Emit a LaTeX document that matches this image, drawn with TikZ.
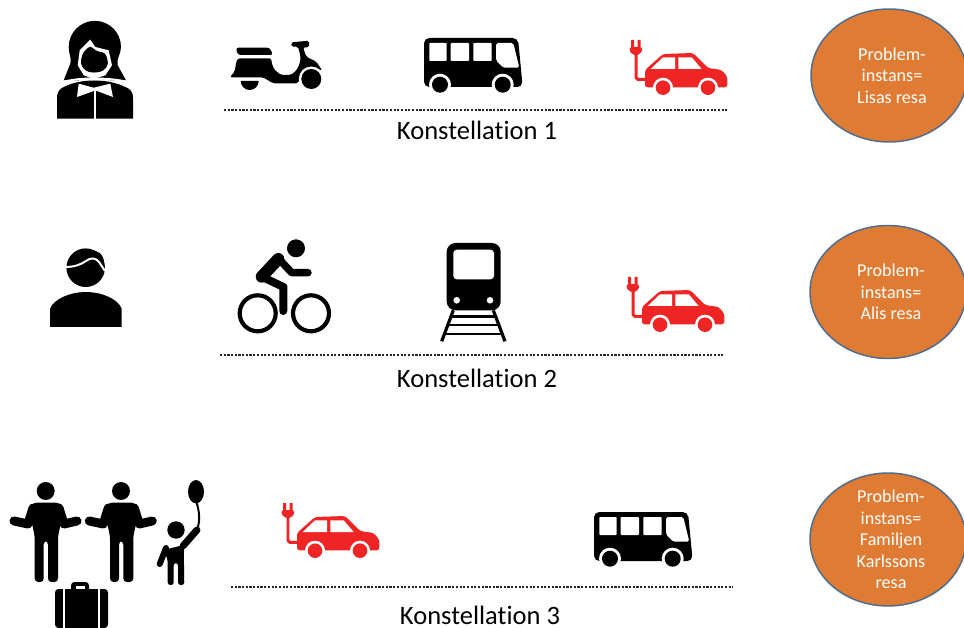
\documentclass[tikz,border=0pt]{standalone}
\usepackage{fontspec}
\setmainfont[Ligatures=NoCommon]{Carlito}
\usepackage{xcolor}
\usepackage{tikz}
\usetikzlibrary{positioning,calc,shapes.geometric}
\definecolor{carred}{HTML}{EE2524}
\definecolor{probfill}{HTML}{E07B33}
\definecolor{probdraw}{HTML}{4F6E8F}
\newcommand{\pxw}{0.567pt}
\tikzset{
	problem/.style={ellipse,draw=probdraw,fill=probfill,line width=1.5*\pxw,minimum width=3.12cm,minimum height=2.66cm,inner sep=0pt},
	probtext/.style={text=white,inner sep=0pt,align=center,xshift=1.7pt,font=\fontsize{10.3}{12.2}\selectfont},
	konst/.style={font=\fontsize{15.1}{17}\selectfont,inner sep=0pt},
	dotline/.style={line width=1.1*\pxw,dash pattern=on 2.2*\pxw off 1.5*\pxw,black!85},
	pics/evcar/.style={code={
		\fill[carred,rounded corners=1.5pt] (15,47.3)--(15,30)--(33,14)--(63,13)--(78,28)--(91.7,30)--(97.3,36.7)--(97.3,47.3)--cycle;
		\fill[white] (33,47.7) circle (10) (78,47.7) circle (10);
		\fill[carred] (33,47.7) circle (7.3) (78,47.7) circle (7.3);
		\fill[white] (20.7,29)--(45,29)--(45,17.3)--(33,17.3)--cycle;
		\fill[white] (48.3,29)--(71.7,29)--(61.7,17.3)--(48.3,17.3)--cycle;
		\draw[carred,line width=3*\pxw,rounded corners=1pt] (16,39.3)--(6,39.3)--(6,14);
		\fill[carred,rounded corners=1.5pt] (-0.5,7)--(12.2,7)--(12.2,12)--(6,16)--(-0.5,12)--cycle;
		\fill[carred] (1,0) rectangle (4,8) (7.7,0) rectangle (10.7,8);
	}},
	pics/busicon/.style={code={
		\fill[black,rounded corners=3pt] (0,0)--(94,0)--(98.7,49)--(0,49)--cycle;
		\fill[white,rounded corners=0.5pt] (5.3,5) rectangle (22.7,23) (26.7,5) rectangle (45,23) (49.3,5) rectangle (67.7,23);
		\fill[white,rounded corners=1pt] (72,5)--(89.3,5)--(95.3,29.7)--(79.3,29.7)--(72,22.3)--cycle;
		\fill[white] (16,46.7) circle (11) (78.7,46.7) circle (11);
		\fill[black] (16,46.7) circle (8) (78.7,46.7) circle (8);
	}},
}
\begin{document}
\begin{tikzpicture}[x=0.02cm,y=-0.02cm,
	scooter/.pic={
		\fill[black,rounded corners=1.5pt] (6.7,7.7)--(40.7,7.7)--(44,15)--(9,15)--cycle;
		\fill[black,rounded corners=1pt] (9,18.3)--(42.3,18.3) .. controls (43,28) and (48,35) .. (57.3,35) .. controls (66,35) and (72,25) .. (71.3,15)--(69,6.7)--(62.3,6.7)--(62.3,2.3)--(80,0.7)--(80,7.3)--(74,7.3)--(77.3,16.7)--(87.3,21.7)--(93.3,30.7)--(82.3,26.7)--(72.3,33.3)--(69,43.3)--(44,43.3)--(34,37.3)--(0.7,37.3)--(5.7,31.7)--(7.3,21.7)--cycle;
		\fill[white] (82.3,39) circle (12.5);
		\fill[black] (82.3,39) circle (10);
		\fill[black] (11.7,41) -- (29.7,41) arc[start angle=0,end angle=180,radius=9] -- cycle;
	},
	woman/.pic={
		\fill[black] (11.7,26) arc[start angle=180,end angle=360,radius=26.15] .. controls (64,33) and (59,38) .. (60.7,44.3) -- (69,59.3) -- (53.3,59.3) -- (36.7,56.7) -- (21.7,59.3) -- (6.7,59.3) -- (13.3,42.7) .. controls (15,38) and (11.7,33) .. (11.7,26) -- cycle;
		\fill[white] (22.7,29.3)--(33.3,18.7)--(38.3,26)--(51.7,29.3)--(55,44.3)--(48.3,54.3)--(36.7,58)--(26.7,54.3)--(20.7,44.3)--cycle;
		\fill[black,rounded corners=2pt] (25.7,31.7)--(33.7,24.3)--(38.3,30)--(48.3,31.7)--(51.7,42.7)--(46.7,50)--(36.7,52)--(28.3,50)--(23.3,42.7)--cycle;
		\draw[white,line width=2*\pxw] (5,61) .. controls (18,58) and (28,57.5) .. (37,57.5) .. controls (46,57.5) and (58,58) .. (71,61);
		\fill[black] (0,97.7)--(0,77.7) .. controls (0,70) and (3,68) .. (6.7,66) .. controls (15,62) and (25,59.5) .. (37,59.5) .. controls (50,59.5) and (60,62) .. (68.3,66) .. controls (73,68) and (76,70) .. (76,77.7) -- (76,97.7) -- cycle;
		\fill[white] (21.7,62.7)--(36.7,66.7)--(53.3,62.7)--(56,76)--(40,70)--(36.7,70)--(20,76)--cycle;
		\draw[white,line width=2*\pxw] (38,70)--(38,98);
	},
	man/.pic={
		\fill[black] (35.7,20.7) circle (19.3);
		\fill[black] (40,3) .. controls (46,3) and (54,6) .. (54,16) -- (50,25) -- cycle;
		\draw[white,line width=2*\pxw] (15,20) .. controls (24,20) and (30,18) .. (36,14) .. controls (41,10) and (46,11) .. (49,15) -- (55,24);
		\fill[black] (0,80)--(0,61.7) .. controls (4,52) and (20,45) .. (35.7,45) .. controls (52,45) and (68,52) .. (71.7,61.7) -- (71.7,80) -- cycle;
	},
	cyclist/.pic={
		\draw[black,line width=4.2*\pxw] (20.7,73.3) circle (18) (74,73.3) circle (18);
		\fill[black] (59,8.3) circle (9);
		\draw[black,line width=7.5*\pxw,line cap=round,line join=round] (71,32.7)--(54.7,32.7)--(41.3,18.3);
		\draw[black,line width=12*\pxw,line cap=round,line join=round] (41.3,19)--(24.7,36.7);
		\draw[black,line width=8*\pxw,line cap=round,line join=round] (24.7,36.7)--(46.5,47)--(46.3,71);
	},
	traintrack/.pic={
		\fill[black,rounded corners=5pt] (6.7,0) rectangle (60.7,67.3);
		\fill[white,rounded corners=2pt] (13.3,6.7) rectangle (54,36.3);
		\fill[white] (16.7,57.3) circle (3.3) (50,57.3) circle (3.3);
		\draw[black,line width=3.2*\pxw] (13.3,67.3)--(1.7,98.3) (53.3,67.3)--(65,98.3);
		\draw[black,line width=3*\pxw] (11,73.5)--(56,73.5) (8,82)--(59,82) (5,91)--(62,91);
	},
	adult/.pic={
		\fill[black] (36.7,9) circle (9);
		\fill[black,rounded corners=2pt] (24,20.7)--(50.7,20.7)--(55,28)--(49,54)--(49,100)--(39,100)--(39,59)--(34.7,59)--(34.7,100)--(25.7,100)--(25.7,54)--(20,28)--cycle;
		\draw[black,line width=9*\pxw,line cap=round,line join=round] (5,39)--(19,42)--(24,26) (68,39)--(55,42)--(50,26);
	},
	child/.pic={
		\fill[black] (19,50) circle (8.7);
		\fill[black,rounded corners=1.5pt] (6.7,70)--(26.7,65)--(27.3,105)--(21,105)--(21,83)--(16.7,83)--(16.7,105)--(10.7,105)--(10.7,80)--cycle;
		\draw[black,line width=7*\pxw,line cap=round] (26,66)--(40,50);
		\draw[black,line width=6*\pxw,line cap=round] (9,68)--(2.7,84);
		\fill[black] (39,11.7) ellipse [x radius=8,y radius=11.7];
		\draw[black,line width=2*\pxw] (39,21) .. controls (43,32) and (43,42) .. (40,50);
	},
	suitcase/.pic={
		\fill[black,rounded corners=2pt] (16,0) rectangle (34,12);
		\fill[white] (20.5,4) rectangle (29.5,10);
		\fill[black,rounded corners=2pt] (0,7) rectangle (53,46);
		\draw[white,line width=2*\pxw] (9,6) -- (9,47) (44,6) -- (44,47);
	}]
	\useasboundingbox (0,0) rectangle (964,628);
	% row 1
	\pic (lisa) at (57,21) {woman};
	\pic (moped1) at (229,40) {scooter};
	\pic (bus1) at (424,38) {busicon};
	\pic (car1) at (630,40) {evcar};
	\coordinate (d1l) at (224,110);
	\coordinate (d1r) at (727,110);
	\draw[dotline] (d1l)--(d1r);
	\node[konst] (k1) at (477,130) {Konstellation 1};
	\node[problem,label={[probtext]center:{Problem-\\instans=\\Lisas resa}}] (p1) at (889,75.5) {};
	% row 2
	\pic (ali) at (50,247) {man};
	\pic (bike2) at (237,240) {cyclist};
	\pic (train2) at (440,243) {traintrack};
	\pic (car2) at (627,277) {evcar};
	\coordinate (d2l) at (220,355);
	\coordinate (d2r) at (723,355);
	\draw[dotline] (d2l)--(d2r);
	\node[konst] (k2) at (477,378) {Konstellation 2};
	\node[problem,label={[probtext]center:{Problem-\\instans=\\Alis resa}}] (p2) at (888,292) {};
	% row 3
	\pic (parent1) at (9,482) {adult};
	\pic (parent2) at (84.3,482) {adult};
	\pic (kid) at (157,480) {child};
	\pic (bag) at (55,582) {suitcase};
	\pic (car3) at (282,503) {evcar};
	\pic (bus3) at (594,512) {busicon};
	\coordinate (d3l) at (231,587);
	\coordinate (d3r) at (733,587);
	\draw[dotline] (d3l)--(d3r);
	\node[konst] (k3) at (480,615) {Konstellation 3};
	\node[problem,label={[probtext]center:{Problem-\\instans=\\Familjen\\Karlssons\\resa}}] (p3) at (888,539.5) {};
\end{tikzpicture}
\end{document}
